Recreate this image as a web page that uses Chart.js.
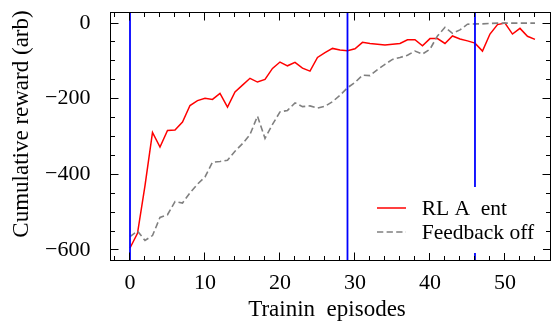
<!DOCTYPE html>
<html><head><meta charset="utf-8">
<script src="https://cdn.jsdelivr.net/npm/chart.js@4.4.1/dist/chart.umd.min.js"></script>
<style>html,body{margin:0;padding:0;background:#fff;overflow:hidden}</style>
</head><body>
<canvas id="c" width="552" height="324"></canvas>
<script>
// ---- data ----
const episodes = [0,1,2,3,4,5,6,7,8,9,10,11,12,13,14,15,16,17,18,19,20,21,22,23,24,25,26,27,28,29,30,31,32,33,34,35,36,37,38,39,40,41,42,43,44,45,46,47,48,49,50,51,52,53,54];
const rlAgent = [-595,-556,-430,-289,-328,-284,-283,-262,-218,-205,-199,-202,-186,-222,-182,-164,-146,-156,-149,-120,-103,-113,-104,-119,-127,-91,-78,-67,-71,-73,-68,-51,-54,-56,-58,-56,-54,-44,-44,-60,-41,-41,-54,-34,-42,-47,-53,-74,-29,-4,0,-29,-14,-35,-43];
const feedbackOff = [-565,-550,-575,-562,-514,-507,-472,-476,-449,-426,-407,-368,-366,-363,-339,-319,-295,-246,-305,-268,-235,-231,-211,-221,-219,-225,-220,-208,-191,-171,-157,-138,-139,-123,-109,-96,-91,-85,-74,-82,-69,-34,-11,-27,-18,-3,-2,-2,-1,0,0,0,0,0,0];
const markerEpisodes = [0, 29, 46];
const xTickValues = [0, 10, 20, 30, 40, 50];
const yTickValues = [-600, -400, -200, 0];
const seriesLabels = ['RL A  ent', 'Feedback off'];
const xTitle = 'Trainin  episodes';
const yTitle = 'Cumulative reward (arb)';

// ---- setup ----
const X_MIN = -2.6, X_MAX = 56.07, Y_MIN = -628, Y_MAX = 28;
const FONT = '"Liberation Serif", "Times New Roman", serif';
const toPts = ys => episodes.map((e, i) => ({x: e, y: ys[i]}));

const datasets = [];
markerEpisodes.forEach(m => datasets.push({
  label: '_marker', data: [{x: m, y: Y_MIN}, {x: m, y: Y_MAX}],
  borderColor: '#0000ff', borderWidth: 1.8, pointRadius: 0, fill: false
}));
datasets.push({label: seriesLabels[1], data: toPts(feedbackOff), borderColor: '#808080',
  borderDash: [6.3, 3.3], borderWidth: 1.6, pointRadius: 0, fill: false});
datasets.push({label: seriesLabels[0], data: toPts(rlAgent), borderColor: '#ff0000',
  borderWidth: 1.5, pointRadius: 0, fill: false});

const decor = {
  id: 'decor',
  beforeDraw(chart) {
    const ctx = chart.ctx;
    ctx.save(); ctx.fillStyle = '#fff'; ctx.fillRect(0, 0, chart.width, chart.height); ctx.restore();
  },
  afterDatasetsDraw(chart) {
    const {ctx, chartArea: a, scales: {x, y}} = chart;
    ctx.save();
    ctx.strokeStyle = '#000'; ctx.lineWidth = 1;
    ctx.strokeRect(a.left, a.top, a.right - a.left, a.bottom - a.top);
    const MAJ = 8, MIN = 4.5;
    ctx.beginPath();
    for (let v = -2; v <= X_MAX; v += 2) {
      const px = Math.floor(x.getPixelForValue(v)) + 0.5;
      if (px <= a.left + 1 || px >= a.right - 1) continue;
      const len = (v % 10 === 0) ? MAJ : MIN;
      ctx.moveTo(px, a.bottom); ctx.lineTo(px, a.bottom - len);
      ctx.moveTo(px, a.top); ctx.lineTo(px, a.top + len);
    }
    for (let v = -600; v <= Y_MAX; v += 50) {
      const py = Math.floor(y.getPixelForValue(v)) + 0.5;
      if (py <= a.top + 1 || py >= a.bottom - 1) continue;
      const len = (v % 200 === 0) ? MAJ : MIN;
      ctx.moveTo(a.left, py); ctx.lineTo(a.left + len, py);
      ctx.moveTo(a.right, py); ctx.lineTo(a.right - len, py);
    }
    ctx.stroke();

    // legend
    ctx.fillStyle = '#fff';
    ctx.fillRect(368, 187, 175, 66);
    const order = [seriesLabels[0], seriesLabels[1]];
    ctx.font = '21.5px ' + FONT;
    ctx.textBaseline = 'middle'; ctx.textAlign = 'left';
    order.forEach((lab, i) => {
      const ds = chart.data.datasets.find(d => d.label === lab);
      const ly = 208 + i * 24;
      ctx.strokeStyle = ds.borderColor; ctx.lineWidth = ds.borderWidth;
      ctx.setLineDash(ds.borderDash || []);
      ctx.beginPath(); ctx.moveTo(377, ly); ctx.lineTo(406, ly); ctx.stroke();
      ctx.setLineDash([]);
      ctx.fillStyle = '#000';
      ctx.fillText(lab, 421.7, ly + 1);
    });

    // axis titles
    ctx.font = '23px ' + FONT;
    ctx.textAlign = 'center'; ctx.textBaseline = 'middle'; ctx.fillStyle = '#000';
    ctx.fillText(xTitle, 327, 310);
    ctx.translate(21.7, 124); ctx.rotate(-Math.PI / 2);
    ctx.fillText(yTitle, 0, 0);
    ctx.restore();
  }
};

new Chart(document.getElementById('c'), {
  type: 'line',
  data: {datasets},
  plugins: [decor],
  options: {
    responsive: false, animation: false, devicePixelRatio: 1,
    layout: {padding: {left: 0, right: 1.5, top: 12.5, bottom: 0}},
    plugins: {legend: {display: false}, tooltip: {enabled: false}},
    elements: {line: {tension: 0}},
    scales: {
      x: {
        type: 'linear', min: X_MIN, max: X_MAX,
        afterBuildTicks: s => { s.ticks = xTickValues.map(v => ({value: v})); },
        afterFit: s => { s.height = 63.5; s.paddingLeft = 0; s.paddingRight = 0; },
        grid: {display: false, drawTicks: false}, border: {display: false},
        ticks: {padding: 9.5, font: {family: FONT, size: 22}, color: '#000', maxRotation: 0, autoSkip: false}
      },
      y: {
        type: 'linear', min: Y_MIN, max: Y_MAX,
        afterBuildTicks: s => { s.ticks = yTickValues.map(v => ({value: v})); },
        afterFit: s => { s.width = 110.5; s.paddingTop = 0; s.paddingBottom = 0; },
        grid: {display: false, drawTicks: false}, border: {display: false},
        ticks: {padding: 20, font: {family: FONT, size: 22}, color: '#000', autoSkip: false,
          callback: v => String(v).replace('-', '\u2212')}
      }
    }
  }
});
</script>
</body></html>
